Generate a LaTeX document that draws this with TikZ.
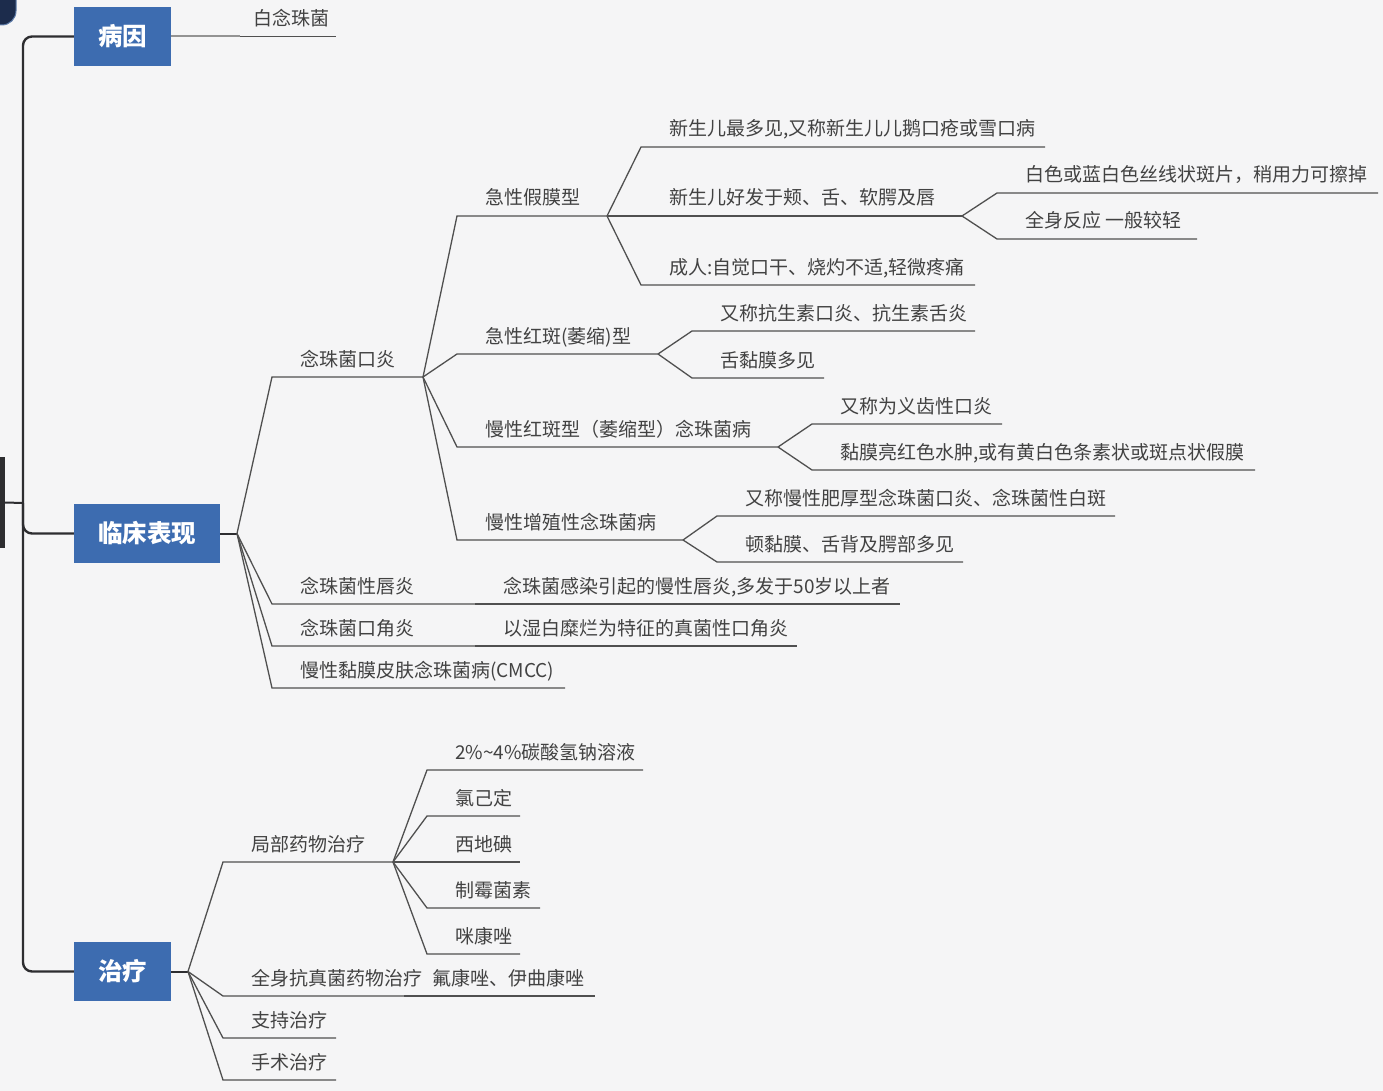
\documentclass[tikz,border=0pt]{standalone}
\usepackage{fontspec}
\newfontfamily\cjk{Noto Sans CJK SC}
\definecolor{bgc}{RGB}{245,245,246}
\definecolor{boxc}{RGB}{61,108,176}
\definecolor{txtc}{RGB}{66,66,66}
\definecolor{linec}{RGB}{80,80,80}
\definecolor{trunkc}{RGB}{45,45,48}
\definecolor{navyc}{RGB}{28,44,76}
\definecolor{navyb}{RGB}{95,125,170}
\tikzset{
  txt/.style={anchor=base west, inner sep=0pt, text=txtc, font=\cjk\fontsize{19}{19}\selectfont},
  ul/.style={draw=linec, line width=1.3pt},
  conn/.style={draw=trunkc, line width=2pt},
  lightconn/.style={draw=gray!85, line width=2pt},
  trunk/.style={draw=trunkc, line width=2.4pt, rounded corners=9pt},
  topbox/.style={fill=boxc, text=white, inner sep=0pt, minimum height=59pt,
    font=\cjk\bfseries\fontsize{24.5}{24.5}\selectfont},
}
% name, parent junction, x start, x end, y of underline, text
\newcommand\mmtopic[6]{%
  \coordinate (#1s) at (#3,#5);
  \coordinate (#1e) at (#4,#5);
  \node[txt] (#1) at (#3+28,#5-11) {#6};
  \draw[ul] (#2) -- (#1s) -- (#1e);}
\begin{document}
\begin{tikzpicture}[x=1pt,y=-1pt]
\useasboundingbox (0,0) rectangle (1383,1091);
\fill[bgc] (0,0) rectangle (1383,1091);
% cropped decorations at the left edge
\filldraw[fill=navyc, draw=navyb, line width=1pt, rounded corners=14pt] (-60,-60) rectangle (16,25);
\node[fill=trunkc, inner sep=0pt, minimum width=10pt, minimum height=91pt, anchor=east] (bar) at (5,502.5) {};
\coordinate (root) at (23,503);

% top boxes
\node[topbox, minimum width=97pt] (bingyin) at (122.5,36.5) {病因};
\node[topbox, minimum width=146pt] (linchuang) at (147,533.5) {临床表现};
\node[topbox, minimum width=97pt] (zhiliao) at (122.5,971.5) {治疗};

% trunk
\draw[conn] (bar.east) -- (root);
\draw[trunk] (bingyin.west) -- (bingyin.west -| root) -- (zhiliao.west -| root) -- (zhiliao.west);
\draw[trunk] (root) -- (linchuang.west -| root) -- (linchuang.west);

% 病因
\coordinate (by0s) at (240,36.5);
\coordinate (by0e) at (336,36.5);
\node[txt] (by0) at (253,25.5) {白念珠菌};
\draw[lightconn] (bingyin.east) -- (by0s);
\draw[ul] (by0s) -- (by0e);

% 临床表现
\coordinate (jLC) at (237,533.5);
\draw[conn] (linchuang.east) -- (jLC);
\mmtopic{ky}{jLC}{272}{423}{377}{念珠菌口炎}
\mmtopic{cy}{jLC}{272}{475}{604}{念珠菌性唇炎}
\mmtopic{cyA}{cye}{475}{900}{604}{念珠菌感染引起的慢性唇炎,多发于50岁以上者}
\mmtopic{kj}{jLC}{272}{475}{646}{念珠菌口角炎}
\mmtopic{kjA}{kje}{475}{797}{646}{以湿白糜烂为特征的真菌性口角炎}
\mmtopic{cm}{jLC}{272}{565}{688}{慢性黏膜皮肤念珠菌病(CMCC)}

% 念珠菌口炎
\mmtopic{jm}{kye}{457}{607}{216}{急性假膜型}
\mmtopic{hb}{kye}{457}{658}{354}{急性红斑(萎缩)型}
\mmtopic{mh}{kye}{457}{778}{447}{慢性红斑型（萎缩型）念珠菌病}
\mmtopic{zz}{kye}{457}{683}{540}{慢性增殖性念珠菌病}

% 急性假膜型
\mmtopic{a1}{jme}{641}{1045}{147}{新生儿最多见,又称新生儿儿鹅口疮或雪口病}
\mmtopic{a2}{jme}{641}{962}{216}{新生儿好发于颊、舌、软腭及唇}
\mmtopic{a3}{jme}{641}{975}{285}{成人:自觉口干、烧灼不适,轻微疼痛}
\mmtopic{b1}{a2e}{997}{1378}{193}{白色或蓝白色丝线状斑片，稍用力可擦掉}
\mmtopic{b2}{a2e}{997}{1197}{239}{全身反应 一般较轻}

% 急性红斑
\mmtopic{c1}{hbe}{692}{975}{331}{又称抗生素口炎、抗生素舌炎}
\mmtopic{c2}{hbe}{692}{824}{378}{舌黏膜多见}

% 慢性红斑
\mmtopic{d1}{mhe}{812}{1002}{424}{又称为义齿性口炎}
\mmtopic{d2}{mhe}{812}{1255}{470}{黏膜亮红色水肿,或有黄白色条素状或斑点状假膜}

% 慢性增殖
\mmtopic{e1}{zze}{717}{1115}{516}{又称慢性肥厚型念珠菌口炎、念珠菌性白斑}
\mmtopic{e2}{zze}{717}{963}{562}{顿黏膜、舌背及腭部多见}

% 治疗
\coordinate (jZL) at (188,971.5);
\draw[conn] (zhiliao.east) -- (jZL);
\mmtopic{jb}{jZL}{223}{393}{862}{局部药物治疗}
\mmtopic{qs}{jZL}{223}{404}{996}{全身抗真菌药物治疗}
\mmtopic{qsA}{qse}{404}{595}{996}{氟康唑、伊曲康唑}
\mmtopic{zc}{jZL}{223}{336}{1038}{支持治疗}
\mmtopic{ss}{jZL}{223}{336}{1080}{手术治疗}

% 局部药物治疗
\mmtopic{f1}{jbe}{427}{643}{770}{2\%\textasciitilde4\%碳酸氢钠溶液}
\mmtopic{f2}{jbe}{427}{520}{816}{氯己定}
\mmtopic{f3}{jbe}{427}{520}{862}{西地碘}
\mmtopic{f4}{jbe}{427}{540}{908}{制霉菌素}
\mmtopic{f5}{jbe}{427}{520}{954}{咪康唑}
\end{tikzpicture}
\end{document}
